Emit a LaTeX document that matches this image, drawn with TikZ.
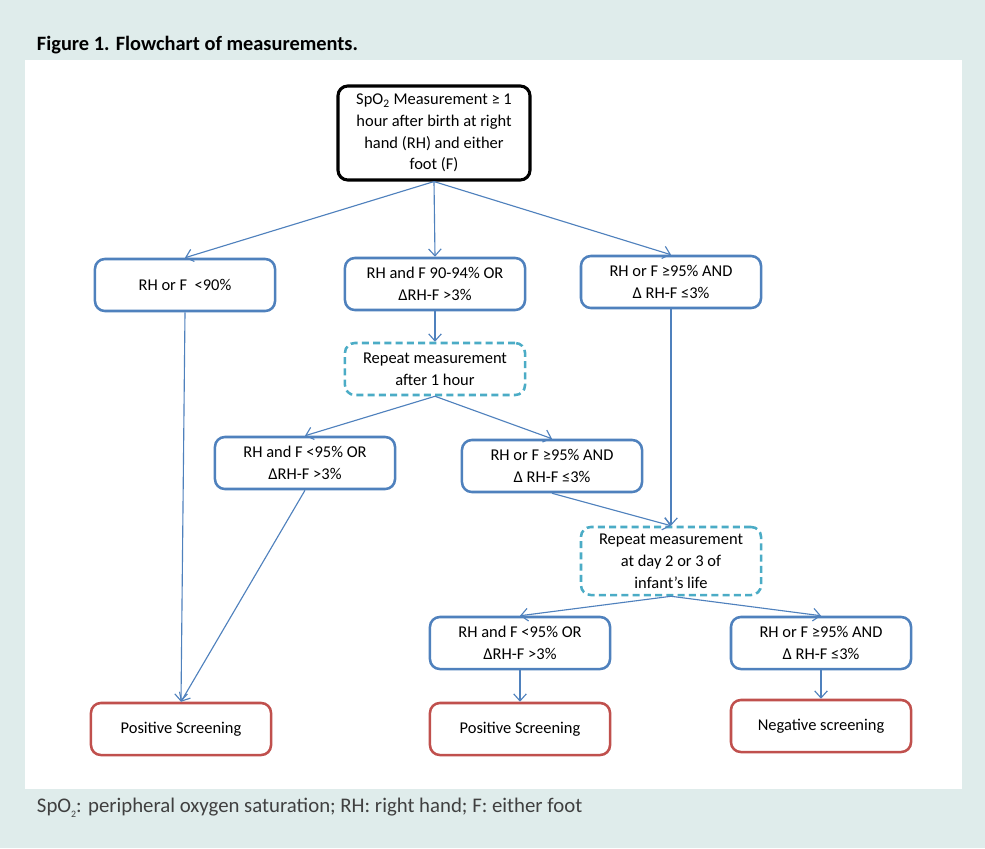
\documentclass[tikz,border=0pt]{standalone}
\usepackage{fontspec}
\setmainfont{Carlito}
\usetikzlibrary{arrows.meta}
\definecolor{sfondo}{HTML}{DFECEB}
\definecolor{blu}{HTML}{4F81BD}
\definecolor{azzurro}{HTML}{4BACC6}
\definecolor{rosso}{HTML}{C0504D}

\begin{document}
\begin{tikzpicture}[x=0.025cm, y=-0.025cm]
			\tikzset{box/.style={rectangle, rounded corners=7pt, draw=blu, line width=1.8pt, minimum width=4.5cm, minimum height=1.3cm, align=center, inner sep=2pt, font=\fontsize{11.7}{15.5}\selectfont},
				ripeti/.style={box, draw=azzurro, dash pattern=on 5pt off 3pt},
				esito/.style={box, draw=rosso},
				freccia/.style={draw=blu, line width=0.8pt, -{Straight Barb[length=5pt, width=9pt]}}}
			
			% Sfondo e pannello
			\fill[sfondo] (0,0) rectangle (985,848);
			\fill[white] (25,60) rectangle (962,789);
			\node[anchor=west, font=\fontsize{14.5}{17}\selectfont\bfseries] (titolo) at (32,45) {Figure 1. Flowchart of measurements.};
			\node[anchor=west, font=\fontsize{14.8}{17}\selectfont, text=black!75] (nota) at (32,808) {SpO\raisebox{-0.5ex}{\scriptsize 2}: peripheral oxygen saturation; RH: right hand; F: either foot};
			
			% Misura iniziale
			\node[box, draw=black, line width=2.2pt, minimum width=4.8cm, minimum height=2.35cm] (M) at (434,133) {SpO\textsubscript{2} Measurement ≥ 1\\hour after birth at right\\hand (RH) and either\\foot (F)};
			
			% Primo livello
			\node[box] (A) at (185,285) {RH or F \ <90\%};
			\node[box] (B) at (435,284) {RH and F 90-94\% OR\\ΔRH-F >3\%};
			\node[box] (C) at (671,282) {RH or F ≥95\% AND\\Δ RH-F ≤3\%};
			
			% Ripetizione dopo 1 ora
			\node[ripeti] (R1) at (435,369) {Repeat measurement\\after 1 hour};
			\node[box] (E) at (305,463) {RH and F <95\% OR\\ΔRH-F >3\%};
			\node[box] (F) at (552,466) {RH or F ≥95\% AND\\Δ RH-F ≤3\%};
			
			% Ripetizione al giorno 2 o 3
			\node[ripeti, minimum height=1.7cm] (R2) at (671,561) {Repeat measurement\\at day 2 or 3 of\\infant’s life};
			\node[box] (H) at (520,643) {RH and F <95\% OR\\ΔRH-F >3\%};
			\node[box] (I) at (821,643) {RH or F ≥95\% AND\\Δ RH-F ≤3\%};
			
			% Esiti
			\node[esito] (P1) at (181,729) {Positive Screening};
			\node[esito] (P2) at (520,729) {Positive Screening};
			\node[esito] (N) at (821,726) {Negative screening};
			
			\draw[freccia] (M.south) -- (A.north);
			\draw[freccia] (M.south) -- (B.north);
			\draw[freccia] (M.south) -- (C.north);
			\draw[freccia] (A.south) -- (P1.north);
			\draw[freccia] (B.south) -- (R1.north);
			\draw[freccia] (R1.south) -- (E.north);
			\draw[freccia] (R1.south) -- (F.north);
			\draw[freccia] (E.south) -- (P1.north);
			\draw[freccia] (C.south) -- (R2.north);
			\draw[freccia] (F.south) -- (R2.north);
			\draw[freccia] (R2.south) -- (H.north);
			\draw[freccia] (R2.south) -- (I.north);
			\draw[freccia] (H.south) -- (P2.north);
			\draw[freccia] (I.south) -- (N.north);
		\end{tikzpicture}
\end{document}
